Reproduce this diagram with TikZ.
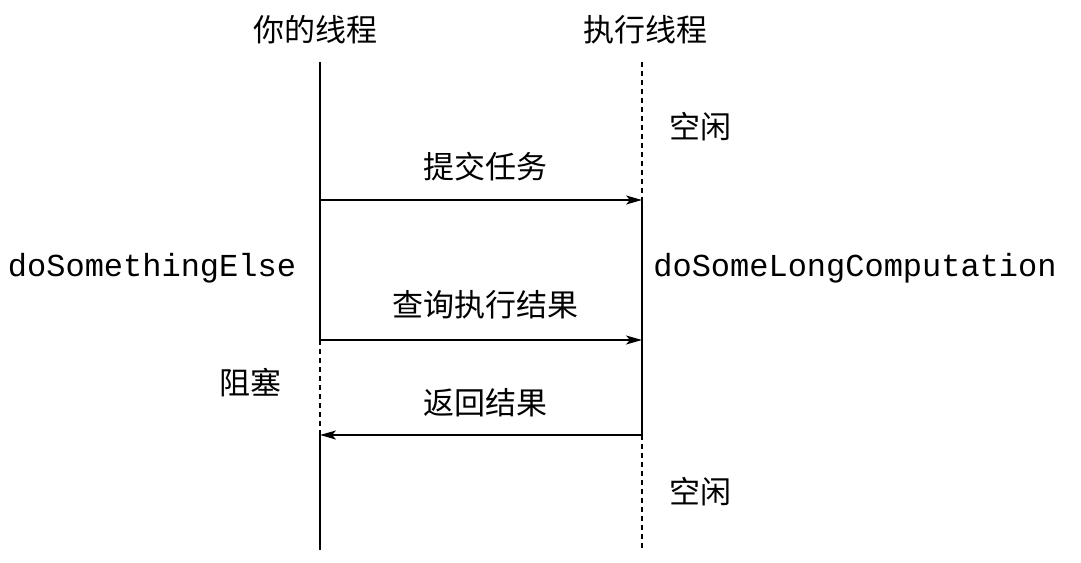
\documentclass[tikz,border=0pt]{standalone}
\usepackage{fontspec}
\newfontfamily\cjk{Noto Sans CJK SC}
\setmonofont{Liberation Mono}
\usetikzlibrary{arrows.meta}
\begin{document}
\begin{tikzpicture}[x=1pt,y=-1pt,
  lbl/.style={font=\cjk\fontsize{31}{34}\selectfont},
  code/.style={font=\ttfamily\fontsize{32}{34}\selectfont},
  ln/.style={line width=1.3pt},
  dsh/.style={line width=1.1pt,dash pattern=on 5pt off 4pt},
  arr/.style={line width=1.3pt,-{Stealth[length=16pt,width=9pt,inset=4pt]}}]
\useasboundingbox[fill=white] (0,0) rectangle (1081,562);
\node[lbl] (t1) at (315,30) {你的线程};
\node[lbl] (t2) at (645,30) {执行线程};
\coordinate (L0) at (320,62); \coordinate (L1) at (320,200);
\coordinate (L2) at (320,340); \coordinate (L3) at (320,435); \coordinate (L4) at (320,550);
\coordinate (R0) at (642,62); \coordinate (R1) at (642,200);
\coordinate (R2) at (642,340); \coordinate (R3) at (642,435); \coordinate (R4) at (642,550);
\draw[ln] (L0) -- (L2); \draw[dsh] (L2) -- (L3); \draw[ln] (L3) -- (L4);
\draw[dsh] (R0) -- (R1); \draw[ln] (R1) -- (R3); \draw[dsh] (R3) -- (R4);
\draw[arr] (L1) -- (R1);
\draw[arr] (L2) -- (R2);
\draw[arr] (R3) -- (L3);
\node[lbl] (i1) at (700,127) {空闲};
\node[lbl] (s1) at (485,167) {提交任务};
\node[code] (c1) at (152,268) {doSomethingElse};
\node[code] (c2) at (855,268) {doSomeLongComputation};
\node[lbl] (q1) at (485,305) {查询执行结果};
\node[lbl] (b1) at (250,383) {阻塞};
\node[lbl] (r1) at (485,403) {返回结果};
\node[lbl] (i2) at (700,492) {空闲};
\end{tikzpicture}
\end{document}
